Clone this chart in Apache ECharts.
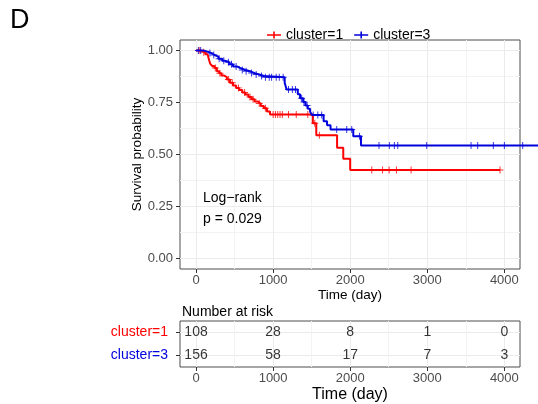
<!DOCTYPE html>
<html>
<head>
<meta charset="utf-8">
<script src="https://cdn.jsdelivr.net/npm/echarts@6/dist/echarts.min.js"></script>
<style>
html,body{margin:0;padding:0;background:#fff;}
#main{width:538px;height:404px;}
</style>
</head>
<body>
<div id="main"></div>
<script>
//生存曲线的阶梯点 [时间, 生存率]
var red_steps = [
    [0,1.000],[60,0.991],[120,0.981],[150,0.972],[170,0.953],[185,0.935],[210,0.925],
    [240,0.915],[270,0.900],[300,0.890],[330,0.880],[360,0.872],[400,0.860],[440,0.845],
    [480,0.832],[520,0.820],[560,0.810],[600,0.798],[640,0.788],[680,0.776],[720,0.765],
    [760,0.754],[800,0.745],[840,0.733],[880,0.722],[920,0.706],[960,0.692],[1515,0.650],
    [1560,0.592],[1830,0.532],[1910,0.479],[2000,0.425],[3944,0.425]
];
var blue_steps = [
    [0,1.000],[90,0.994],[150,0.987],[200,0.978],[240,0.970],[290,0.960],[340,0.950],
    [380,0.943],[430,0.933],[480,0.923],[530,0.914],[580,0.906],[640,0.900],[700,0.891],
    [760,0.884],[820,0.877],[880,0.871],[1150,0.845],[1175,0.812],[1320,0.790],[1350,0.770],
    [1390,0.752],[1420,0.735],[1450,0.720],[1480,0.705],[1505,0.690],[1655,0.660],
    [1700,0.640],[1745,0.620],[2040,0.588],[2140,0.543],[4437,0.543]
];
//删失时间点
var red_censor = [40,100,250,310,420,470,550,630,700,740,820,900,1000,1030,1060,1090,1120,
    1200,1300,1450,1540,1600,2280,2420,2505,2600,2790,3944];
var blue_censor = [30,60,180,230,300,360,420,460,520,600,650,720,780,850,900,950,980,1040,
    1080,1130,1200,1250,1290,1370,1400,1440,1520,1580,1630,1825,1955,2020,2120,2374,2508,
    2573,2617,2993,3568,3654,3857,4000,4238];
//风险人数表
var risk_times = [0,1000,2000,3000,4000];
var risk_c1 = [108,28,8,1,0];
var risk_c3 = [156,58,17,7,3];
//刻度
var x_ticks = [0,1000,2000,3000,4000];
var x_minor = [500,1500,2500,3500];
var y_ticks = [0,0.25,0.5,0.75,1];
var y_minor = [0.125,0.375,0.625,0.875];

var RED = '#ff0000', BLUE = '#0000dd';
var FONT = 'Liberation Sans, Arial, sans-serif';
var PLUS = 'path://M0,4.3H10V5.7H0Z M4.3,0H5.7V10H4.3Z';
var X_MIN = -208, X_MAX = 4203;
//曲线超出边框画到图片右边缘
var X_MAX_WIDE = X_MIN + (538 - 180) / (340 / (X_MAX - X_MIN));

//取某时间点的生存率
function levelAt(steps, t) {
    var v = steps[0][1];
    for (var i = 0; i < steps.length; i++) {
        if (steps[i][0] <= t) v = steps[i][1];
    }
    return v;
}
function censorPts(steps, times) {
    return times.map(function (t) { return [t, levelAt(steps, t)]; });
}
function riskPts(vals, row) {
    return risk_times.map(function (t, i) { return [t, row, vals[i]]; });
}

var myChart = echarts.init(document.getElementById('main'));

function xAxisBase(grid) {
    return {
        gridIndex: grid, type: 'value', min: X_MIN, max: X_MAX,
        axisLine: {show: false, onZero: false},
        axisTick: {show: true, customValues: x_ticks, length: 4, lineStyle: {color: '#333'}},
        axisLabel: {customValues: x_ticks, color: '#4d4d4d', fontSize: 13, margin: 5, fontFamily: FONT,
            formatter: function (v) { return String(v); }},
        splitLine: {show: true, lineStyle: {color: '#ebebeb', width: 1}}
    };
}
function minorX(grid) {
    return {
        gridIndex: grid, type: 'value', min: X_MIN, max: X_MAX,
        axisLine: {show: false, onZero: false}, axisLabel: {show: false},
        axisTick: {show: false, customValues: x_minor},
        splitLine: {show: true, lineStyle: {color: '#f3f3f3', width: 1}}
    };
}

var xMain = xAxisBase(0);
xMain.name = 'Time (day)';
xMain.nameLocation = 'middle';
xMain.nameGap = 19;
xMain.nameMoveOverlap = false;
xMain.nameTextStyle = {color: '#000', fontSize: 13.5, fontFamily: FONT};

var xTable = xAxisBase(1);
xTable.name = 'Time (day)';
xTable.nameLocation = 'middle';
xTable.nameGap = 20;
xTable.nameMoveOverlap = false;
xTable.nameTextStyle = {color: '#000', fontSize: 16, fontFamily: FONT};

var option = {
    animation: false,
    backgroundColor: '#fff',
    textStyle: {fontFamily: FONT},
    grid: [
        {left: 180, top: 40, width: 340, height: 229, show: true, borderColor: '#4d4d4d', borderWidth: 1, backgroundColor: 'transparent'},
        {left: 180, top: 321, width: 340, height: 50, show: true, borderColor: '#4d4d4d', borderWidth: 1, backgroundColor: 'transparent'},
        {left: 180, top: 40, width: 358, height: 229, show: false}
    ],
    legend: {
        top: 23, left: 262, itemWidth: 14, itemHeight: 10, itemGap: 11,
        textStyle: {fontSize: 14, color: '#000', fontFamily: FONT},
        data: [
            {name: 'cluster=1', icon: 'path://M0,4.2H14V5.8H0Z M6.2,1.5H7.8V8.5H6.2Z', itemStyle: {color: RED}},
            {name: 'cluster=3', icon: 'path://M0,4.2H14V5.8H0Z M6.2,1.5H7.8V8.5H6.2Z', itemStyle: {color: BLUE}}
        ]
    },
    xAxis: [xMain, xTable, minorX(0), minorX(1),
        {gridIndex: 2, type: 'value', min: X_MIN, max: X_MAX_WIDE, show: false}],
    yAxis: [
        {
            gridIndex: 0, type: 'value', min: -0.05, max: 1.05,
            axisLine: {show: false, onZero: false},
            axisTick: {show: true, customValues: y_ticks, length: 4, lineStyle: {color: '#333'}},
            axisLabel: {customValues: y_ticks, color: '#4d4d4d', fontSize: 13, margin: 7, fontFamily: FONT,
                formatter: function (v) { return v.toFixed(2); }},
            splitLine: {show: true, lineStyle: {color: '#ebebeb', width: 1}},
            name: 'Survival probability', nameLocation: 'middle', nameGap: 36, nameMoveOverlap: false,
            nameTextStyle: {color: '#000', fontSize: 13.5, fontFamily: FONT}
        },
        {
            gridIndex: 1, type: 'value', min: 0, max: 2,
            axisLine: {show: false, onZero: false},
            axisTick: {show: true, customValues: [0.5, 1.5], length: 4, lineStyle: {color: '#333'}},
            axisLabel: {customValues: [0.5, 1.5], margin: 12, fontSize: 14, fontFamily: FONT,
                formatter: function (v) { return v > 1 ? '{a|cluster=1}' : '{b|cluster=3}'; },
                rich: {a: {color: RED, fontSize: 14, fontFamily: FONT}, b: {color: BLUE, fontSize: 14, fontFamily: FONT}}},
            splitLine: {show: true, lineStyle: {color: '#ebebeb', width: 1}}
        },
        {
            gridIndex: 0, type: 'value', min: -0.05, max: 1.05,
            axisLine: {show: false, onZero: false}, axisLabel: {show: false},
            axisTick: {show: false, customValues: y_minor},
            splitLine: {show: true, lineStyle: {color: '#f3f3f3', width: 1}}
        },
        {gridIndex: 2, type: 'value', min: -0.05, max: 1.05, show: false}
    ],
    graphic: [
        {type: 'text', left: 10, top: 7, style: {text: 'D', fontSize: 27, fill: '#000', fontFamily: FONT}},
        {type: 'text', left: 203, top: 191, style: {text: 'Log\u2212rank', fontSize: 14, fill: '#000', fontFamily: FONT}},
        {type: 'text', left: 203, top: 212, style: {text: 'p = 0.029', fontSize: 14, fill: '#000', fontFamily: FONT}},
        {type: 'text', left: 182, top: 305, style: {text: 'Number at risk', fontSize: 14, fill: '#000', fontFamily: FONT}}
    ],
    series: [
        {
            name: 'cluster=1', type: 'line', step: 'end', xAxisIndex: 4, yAxisIndex: 3,
            data: red_steps, showSymbol: false,
            lineStyle: {color: RED, width: 2}, itemStyle: {color: RED}
        },
        {
            name: 'cluster=1', type: 'scatter', xAxisIndex: 4, yAxisIndex: 3,
            data: censorPts(red_steps, red_censor), symbol: PLUS, symbolSize: 7,
            itemStyle: {color: RED}
        },
        {
            name: 'cluster=3', type: 'line', step: 'end', xAxisIndex: 4, yAxisIndex: 3,
            data: blue_steps, showSymbol: false,
            lineStyle: {color: BLUE, width: 2}, itemStyle: {color: BLUE}
        },
        {
            name: 'cluster=3', type: 'scatter', xAxisIndex: 4, yAxisIndex: 3,
            data: censorPts(blue_steps, blue_censor), symbol: PLUS, symbolSize: 7,
            itemStyle: {color: BLUE}
        },
        {
            type: 'scatter', xAxisIndex: 1, yAxisIndex: 1, symbolSize: 0,
            data: riskPts(risk_c1, 1.5).concat(riskPts(risk_c3, 0.5)),
            label: {show: true, position: 'inside', color: '#000', fontSize: 14, fontFamily: FONT,
                formatter: function (p) { return String(p.value[2]); }}
        }
    ]
};
myChart.setOption(option);
</script>
</body>
</html>
